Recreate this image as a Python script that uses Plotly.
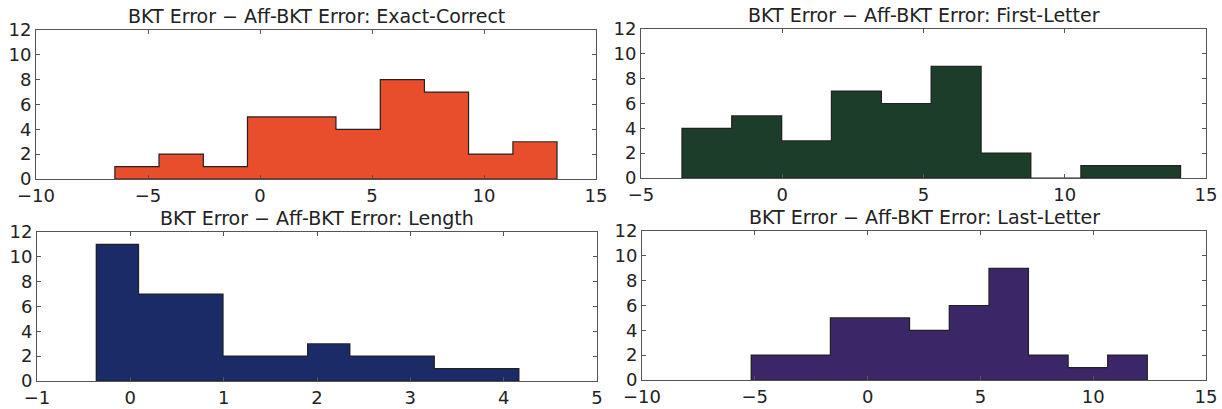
import plotly.graph_objects as go

# ---- data ----
titles = [
    "BKT Error \u2212 Aff-BKT Error: Exact-Correct",
    "BKT Error \u2212 Aff-BKT Error: First-Letter",
    "BKT Error \u2212 Aff-BKT Error: Length",
    "BKT Error \u2212 Aff-BKT Error: Last-Letter",
]

exact_edges = [-6.48, -4.51, -2.53, -0.56, 1.42, 3.39, 5.37, 7.34, 9.31, 11.29, 13.26]
exact_counts = [1, 2, 1, 5, 5, 4, 8, 7, 2, 3]

first_edges = [-3.55, -1.79, -0.02, 1.74, 3.51, 5.27, 7.04, 8.80, 10.57, 12.33, 14.10]
first_counts = [4, 5, 3, 7, 6, 9, 2, 0, 1, 1]

length_edges = [-0.365, 0.088, 0.541, 0.993, 1.446, 1.899, 2.352, 2.805, 3.257, 3.710, 4.163]
length_counts = [11, 7, 7, 2, 2, 3, 2, 2, 1, 1]

last_edges = [-5.16, -3.40, -1.65, 0.11, 1.86, 3.62, 5.38, 7.13, 8.89, 10.64, 12.40]
last_counts = [2, 2, 5, 5, 4, 6, 9, 2, 1, 2]

x_ranges = [[-10, 15], [-5, 15], [-1, 5], [-10, 15]]
x_dticks = [5, 5, 1, 5]
y_ticks = [0, 2, 4, 6, 8, 10, 12]

colors = ["#E94E2C", "#1C3D2A", "#1B2B68", "#3B2668"]

# ---- layout geometry ----
W, H = 1222, 409
px_x = [(36, 596), (641, 1206), (37, 597), (642, 1206)]
px_y = [(30, 179), (29, 178), (232, 381), (231, 380)]

panels = [
    (exact_edges, exact_counts),
    (first_edges, first_counts),
    (length_edges, length_counts),
    (last_edges, last_counts),
]

fig = go.Figure()
font_family = "DejaVu Sans"
axis_color = "#555555"
text_color = "#222222"

annotations = []
for i, (edges, counts) in enumerate(panels):
    n = i + 1
    xa = "x" if n == 1 else f"x{n}"
    ya = "y" if n == 1 else f"y{n}"
    centers = [(edges[k] + edges[k + 1]) / 2 for k in range(len(counts))]
    widths = [edges[k + 1] - edges[k] for k in range(len(counts))]
    fig.add_trace(go.Bar(
        x=centers, y=counts, width=widths,
        marker=dict(color=colors[i], line=dict(width=0)),
        xaxis=xa, yaxis=ya, showlegend=False,
    ))
    # step outline (stepfilled histogram look)
    sx = [edges[0]] + list(edges[:-1]) + [edges[-1], edges[0]]
    sy = [0] + list(counts) + [0, 0]
    fig.add_trace(go.Scatter(
        x=sx, y=sy, mode="lines", line=dict(shape="hv", color="#222222", width=1.2),
        xaxis=xa, yaxis=ya, showlegend=False, hoverinfo="skip",
    ))
    x0, x1 = px_x[i]
    y0, y1 = px_y[i]
    xd = [x0 / W, x1 / W]
    yd = [1 - y1 / H, 1 - y0 / H]
    xkey = "xaxis" if n == 1 else f"xaxis{n}"
    ykey = "yaxis" if n == 1 else f"yaxis{n}"
    fig.layout[xkey] = dict(
        domain=xd, range=x_ranges[i], anchor=ya, automargin=False,
        tick0=x_ranges[i][0], dtick=x_dticks[i],
        showgrid=False, zeroline=False,
        showline=True, linecolor=axis_color, linewidth=1, mirror="ticks",
        ticks="inside", ticklen=4, tickcolor=axis_color,
        tickfont=dict(family=font_family, size=18, color=text_color),
    )
    fig.layout[ykey] = dict(
        domain=yd, range=[0, 12], anchor=xa, automargin=False,
        tickvals=y_ticks,
        showgrid=False, zeroline=False,
        showline=True, linecolor=axis_color, linewidth=1, mirror="ticks",
        ticks="inside", ticklen=4, tickcolor=axis_color,
        tickfont=dict(family=font_family, size=18, color=text_color),
    )
    annotations.append(dict(
        text=titles[i], x=(xd[0] + xd[1]) / 2, y=yd[1],
        xref="paper", yref="paper", xanchor="center", yanchor="bottom",
        yshift=1, showarrow=False,
        font=dict(family=font_family, size=19, color=text_color),
    ))

fig.update_layout(
    width=W, height=H,
    margin=dict(l=0, r=0, t=0, b=0),
    paper_bgcolor="white", plot_bgcolor="white",
    annotations=annotations,
    bargap=0,
)

fig.write_html(
    "out.html",
    config={"displayModeBar": False},
    post_script="document.body.style.margin='0';document.body.style.overflow='hidden';",
)
